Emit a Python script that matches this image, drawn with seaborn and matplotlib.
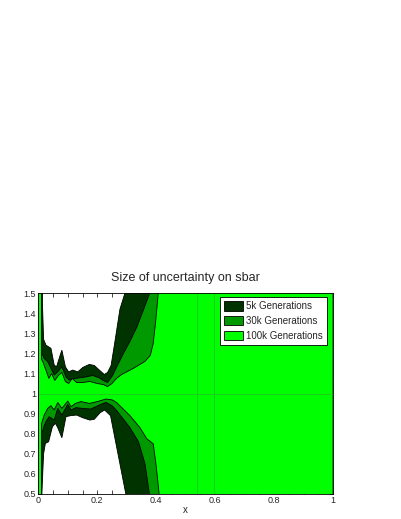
import matplotlib
matplotlib.use("Agg")
import matplotlib.pyplot as plt
import numpy as np
import pandas as pd
import seaborn as sns
from matplotlib.ticker import MultipleLocator, FormatStrFormatter

# band edges (values past 1.5 / below 0.5 just mean "off the axes")
dark_up_x = [0, 0.011, 0.014, 0.018, 0.026, 0.043, 0.054, 0.062, 0.074, 0.080, 0.092, 0.103,
             0.117, 0.134, 0.151, 0.173, 0.19, 0.207, 0.224, 0.235, 0.247, 0.258, 0.277,
             0.294, 0.32, 0.36, 1.0]
dark_up_y = [3, 3, 1.45, 1.27, 1.241, 1.225, 1.142, 1.133, 1.19, 1.216, 1.133, 1.108,
             1.117, 1.108, 1.13, 1.145, 1.14, 1.117, 1.095, 1.105, 1.14, 1.24, 1.42,
             1.5, 1.7, 3, 3]
dark_lo_x = [0, 0.009, 0.012, 0.018, 0.024, 0.035, 0.048, 0.058, 0.066, 0.080, 0.094, 0.11,
             0.13, 0.15, 0.175, 0.19, 0.21, 0.225, 0.245, 0.265, 0.297, 0.32, 0.36, 1.0]
dark_lo_y = [-1, -1, 0.5, 0.70, 0.752, 0.76, 0.835, 0.852, 0.83, 0.78, 0.885, 0.89,
             0.893, 0.88, 0.868, 0.872, 0.905, 0.918, 0.89, 0.74, 0.5, 0.3, -1, -1]

mid_up_x = [0, 0.009, 0.012, 0.02, 0.032, 0.043, 0.054, 0.066, 0.080, 0.094, 0.105, 0.122,
            0.139, 0.162, 0.185, 0.207, 0.224, 0.235, 0.252, 0.266, 0.289, 0.311, 0.334,
            0.355, 0.378, 0.40, 0.44, 1.0]
mid_up_y = [3, 3, 1.2, 1.175, 1.158, 1.125, 1.092, 1.108, 1.133, 1.083, 1.067, 1.075,
            1.078, 1.083, 1.09, 1.078, 1.062, 1.055, 1.09, 1.133, 1.2, 1.26, 1.33,
            1.41, 1.5, 1.7, 3, 3]
mid_lo_x = [0, 0.009, 0.012, 0.02, 0.026, 0.037, 0.054, 0.066, 0.080, 0.1, 0.111, 0.128,
            0.15, 0.178, 0.207, 0.23, 0.25, 0.266, 0.29, 0.311, 0.34, 0.362, 0.377, 0.40,
            0.44, 1.0]
mid_lo_y = [-1, -1, 0.8, 0.84, 0.86, 0.885, 0.868, 0.926, 0.893, 0.946, 0.918, 0.93,
            0.926, 0.923, 0.943, 0.956, 0.94, 0.915, 0.87, 0.83, 0.76, 0.65, 0.5, 0.3,
            -1, -1]

hi_up_x = [0, 0.009, 0.011, 0.015, 0.025, 0.036, 0.045, 0.056, 0.068, 0.080, 0.092, 0.103,
           0.115, 0.130, 0.150, 0.175, 0.200, 0.220, 0.235, 0.250, 0.265, 0.283, 0.322,
           0.362, 0.38, 0.39, 0.399, 0.407, 0.43, 0.46, 1.0]
hi_up_y = [3, 3, 1.17, 1.16, 1.12, 1.075, 1.10, 1.065, 1.09, 1.105, 1.06, 1.05,
           1.075, 1.055, 1.055, 1.06, 1.05, 1.045, 1.035, 1.05, 1.075, 1.095, 1.125,
           1.16, 1.19, 1.25, 1.37, 1.5, 1.8, 3, 3]
hi_lo_x = [0, 0.009, 0.011, 0.02, 0.032, 0.043, 0.054, 0.066, 0.080, 0.1, 0.111, 0.126,
           0.145, 0.173, 0.2, 0.23, 0.252, 0.266, 0.311, 0.345, 0.368, 0.39, 0.4, 0.41,
           0.43, 0.46, 1.0]
hi_lo_y = [-1, -1, 0.85, 0.893, 0.926, 0.94, 0.918, 0.956, 0.926, 0.963, 0.935, 0.951,
           0.96, 0.951, 0.96, 0.973, 0.968, 0.955, 0.89, 0.83, 0.775, 0.75, 0.64, 0.5,
           0.2, -1, -1]

labels = ["5k Generations", "30k Generations", "100k Generations"]
colors = ["#003300", "#009900", "#00ff00"]
grid_x = [0.537, 0.597]

sns.set_style("ticks")
plt.rcParams["font.family"] = ["Liberation Sans", "DejaVu Sans"]

fig = plt.figure(figsize=(4.01, 5.19), dpi=100)
ax = fig.add_axes([0.0955, 0.0482, 0.735, 0.387])

bands = [(dark_up_x, dark_up_y, dark_lo_x, dark_lo_y),
         (mid_up_x, mid_up_y, mid_lo_x, mid_lo_y),
         (hi_up_x, hi_up_y, hi_lo_x, hi_lo_y)]
for (ux, uy, lx, ly), col, lab in zip(bands, colors, labels):
    px = list(ux) + list(lx)[::-1]
    py = list(uy) + list(ly)[::-1]
    ax.fill(px, py, color=col, lw=0, label=lab)

# faint grid-ish lines seen in the original
ref = pd.DataFrame({"x": [0, 1], "y": [1, 1]})
sns.lineplot(data=ref, x="x", y="y", ax=ax, color="#1fc81f", lw=0.6)
for gx in grid_x:
    ax.axvline(gx, color="#1fc81f", lw=0.6)

ax.set_xlim(0, 1)
ax.set_ylim(0.5, 1.5)
ax.xaxis.set_major_locator(MultipleLocator(0.2))
ax.xaxis.set_minor_locator(MultipleLocator(0.05))
ax.yaxis.set_major_locator(MultipleLocator(0.1))
ax.yaxis.set_minor_locator(MultipleLocator(0.01))
ax.xaxis.set_major_formatter(FormatStrFormatter("%g"))
ax.yaxis.set_major_formatter(FormatStrFormatter("%g"))
ax.tick_params(which="both", direction="in", top=True, right=True, width=0.6,
               labelsize=6.5, pad=1.5)
ax.tick_params(which="major", length=3)
ax.tick_params(axis="x", which="minor", length=3)
ax.tick_params(axis="y", which="minor", length=1.5)
for s in ax.spines.values():
    s.set_linewidth(0.6)
    s.set_color("black")

ax.set_title("Size of uncertainty on sbar", fontsize=9, pad=9)
ax.set_xlabel("x", fontsize=7, labelpad=0)
ax.set_ylabel("")

h, l = ax.get_legend_handles_labels()
h = [hh for hh, ll in zip(h, l) if ll in labels]
for hh in h:
    hh.set_edgecolor("black")
    hh.set_linewidth(0.6)
leg = ax.legend(h, labels, loc="upper right", bbox_to_anchor=(1 - 6 / 294.7, 1 - 4 / 201),
                borderaxespad=0, fontsize=7, frameon=True, fancybox=False,
                edgecolor="black", framealpha=1, handlelength=1.95,
                handleheight=1.13, labelspacing=0.5, handletextpad=0.4, borderpad=0.4)
leg.get_frame().set_linewidth(0.6)

fig.savefig("out.png", dpi=100)
